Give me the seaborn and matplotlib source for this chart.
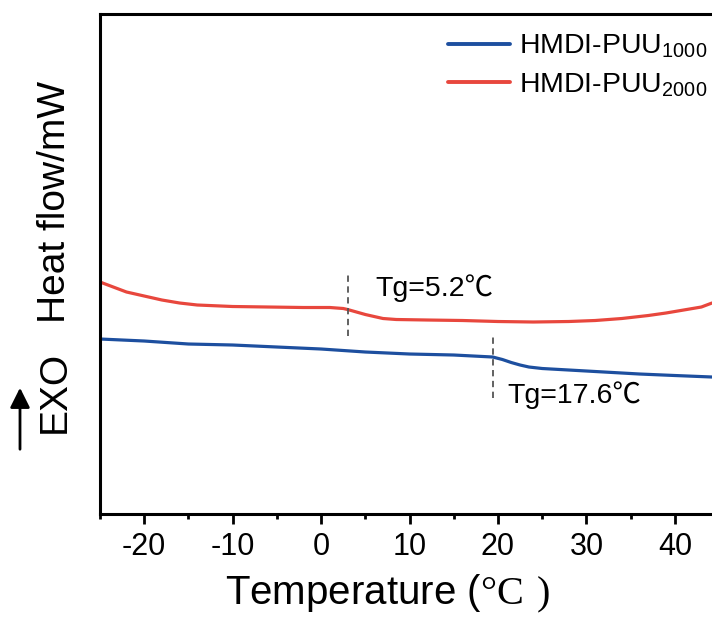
import numpy as np
import pandas as pd
import matplotlib
matplotlib.use('Agg')
from matplotlib import pyplot as plt
from matplotlib.ticker import MultipleLocator
import seaborn as sns

# DSC curves (heat flow in arbitrary units, EXO up)
temp_2000 = [-25, -23.5, -22, -20, -18, -16, -14, -10, -6, -2, 1, 2.5, 3, 4, 5, 6, 7, 8.5,
             12, 16, 20, 24, 28, 31, 34, 37, 39, 41, 43, 44.2]
flow_2000 = [2.32, 2.27, 2.22, 2.18, 2.14, 2.11, 2.09, 2.075, 2.07, 2.065, 2.065, 2.055, 2.045,
             2.02, 1.995, 1.975, 1.955, 1.945, 1.94, 1.935, 1.925, 1.92, 1.925, 1.935, 1.955,
             1.985, 2.01, 2.04, 2.07, 2.11]
temp_1000 = [-25, -20, -15, -10, -5, 0, 5, 10, 15, 19.4, 20.5, 21.5, 22.5, 23.5, 25, 28, 32,
             36, 40, 44.2]
flow_1000 = [1.75, 1.73, 1.70, 1.69, 1.67, 1.65, 1.62, 1.60, 1.59, 1.57, 1.545, 1.515, 1.49,
             1.47, 1.455, 1.44, 1.42, 1.40, 1.385, 1.37]

labels = [r'HMDI-PUU$_{\mathsf{1000}}$', r'HMDI-PUU$_{\mathsf{2000}}$']
tg_x = [3.0, 19.4]
tg_span = [(1.78, 2.41), (1.16, 1.79)]
tg_text = ['Tg=5.2℃', 'Tg=17.6℃']
tg_pos = [(6.1, 2.26), (21.1, 1.19)]

sns.set_theme(style='ticks')
plt.rcParams['font.family'] = ['Liberation Sans', 'Noto Sans CJK SC', 'DejaVu Sans']
plt.rcParams['mathtext.fontset'] = 'custom'
plt.rcParams['mathtext.rm'] = 'Liberation Serif'
plt.rcParams['mathtext.sf'] = 'Liberation Sans'
plt.rcParams['axes.unicode_minus'] = False
plt.rcParams['text.color'] = 'black'
plt.rcParams['axes.labelcolor'] = 'black'
plt.rcParams['xtick.color'] = 'black'
plt.rcParams['xtick.labelcolor'] = 'black'

blue = '#1d4f9f'
red = '#e8473d'

fig = plt.figure(figsize=(7.12, 6.19), dpi=100)
ax = fig.add_axes([0.1404, 0.1696, 0.8596, 0.8078])

df1 = pd.DataFrame({'T': temp_1000, 'H': flow_1000})
df2 = pd.DataFrame({'T': temp_2000, 'H': flow_2000})
sns.lineplot(data=df1, x='T', y='H', color=blue, lw=2.3, label=labels[0], ax=ax)
sns.lineplot(data=df2, x='T', y='H', color=red, lw=2.3, label=labels[1], ax=ax)

for x, (y0, y1) in zip(tg_x, tg_span):
    ax.plot([x, x], [y0, y1], ls=(0, (3.5, 2.5)), color='#555555', lw=1.3)
for txt, (x, y) in zip(tg_text, tg_pos):
    ax.text(x, y, txt, fontsize=20.5, ha='left', va='center')

ax.set_xlim(-25, 44.2)
ax.set_ylim(0, 5)
ax.set_yticks([])
ax.xaxis.set_major_locator(MultipleLocator(10))
ax.xaxis.set_minor_locator(MultipleLocator(5))
ax.tick_params(axis='x', which='major', direction='out', length=7, width=2,
               labelsize=22, pad=6, top=False)
ax.tick_params(axis='x', which='minor', direction='out', length=3.5, width=2, top=False)
for s in ['left', 'bottom', 'top']:
    ax.spines[s].set_linewidth(2.2)
    ax.spines[s].set_color('black')
ax.spines['right'].set_visible(False)

ax.set_xlabel('Temperature ($\\mathrm{°C\\ )}$', fontsize=29)
ax.xaxis.set_label_coords(0.47, -0.118)
ax.set_ylabel('')

leg = ax.legend(loc='upper right', bbox_to_anchor=(1.02, 0.997), frameon=False, fontsize=20.5,
                handlelength=2.2, handletextpad=0.3, labelspacing=0.38, borderaxespad=0.2)
for h in leg.get_lines():
    h.set_linewidth(2.8)

# y label with EXO arrow
fig.text(55 / 712, 1 - 202 / 619, 'Heat flow/mW', rotation=90, fontsize=28, ha='center', va='center')
fig.text(55 / 712, 1 - 392 / 619, 'EXO', rotation=90, fontsize=28, ha='center', va='center')
fig.patches.append(matplotlib.patches.FancyArrowPatch(
    (20 / 712, 1 - 452 / 619), (20 / 712, 1 - 385 / 619), transform=fig.transFigure,
    arrowstyle='-|>,head_length=6,head_width=3', color='black', lw=2, mutation_scale=2))

fig.savefig('out.png', dpi=100)
